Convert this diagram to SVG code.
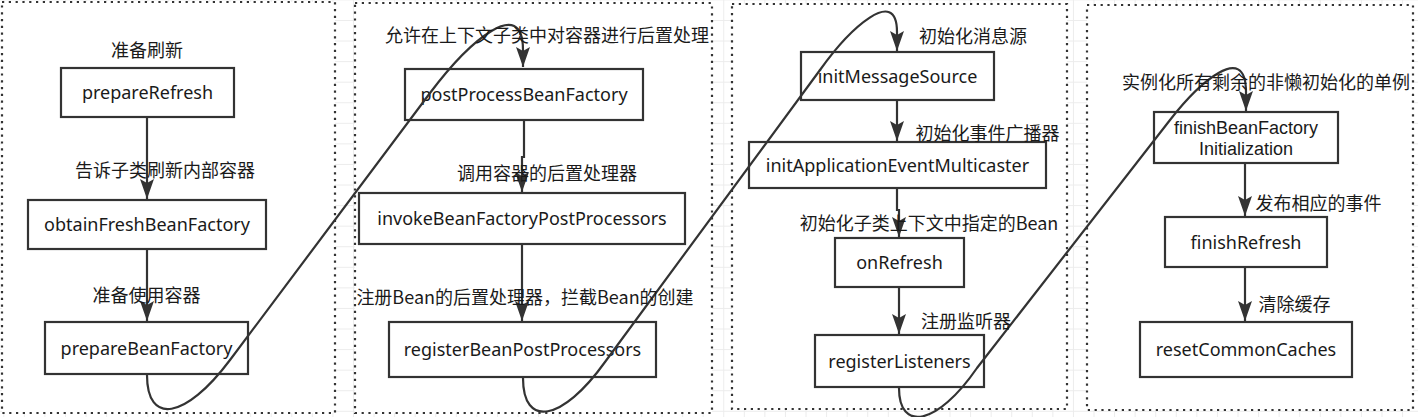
<svg xmlns="http://www.w3.org/2000/svg" width="1418" height="417" viewBox="0 0 1418 417">
<style>
.panel{fill:#fff;stroke:#333;stroke-width:2.2;stroke-dasharray:2.2 4.6}
.box{fill:#fff;stroke:#333;stroke-width:2.2}
.bt{font-family:"Noto Sans","Liberation Sans",Arial,sans-serif;font-size:18px;fill:#1a1a1a;text-anchor:middle}
.bt2{font-family:"Liberation Sans",Arial,sans-serif;font-size:18px;fill:#1a1a1a;text-anchor:middle}
.lb{font-family:"Noto Sans CJK SC","Noto Sans",sans-serif;font-size:18px;fill:#1a1a1a;text-anchor:middle}
.edge{fill:none;stroke:#333;stroke-width:2.2}
</style>
<defs>
<pattern id="grid" patternUnits="userSpaceOnUse" x="3.3" y="-0.6" width="20.57" height="20.57">
<path d="M0,0.5 H20.57 M0.5,0 V20.57" fill="none" stroke="#ececec" stroke-width="1"/>
</pattern>
<marker id="arr" markerUnits="userSpaceOnUse" markerWidth="22" markerHeight="16" refX="20" refY="7" orient="auto">
<path d="M0,0 L20,7 L0,14 L4,7 z" fill="#333"/>
</marker>
</defs>
<rect width="1418" height="417" fill="#fff"/>
<rect width="1418" height="417" fill="url(#grid)"/>
<g id="panels">
<rect class="panel" x="2" y="2" width="333" height="411"/>
<rect class="panel" x="355" y="3" width="357" height="410"/>
<rect class="panel" x="732" y="4" width="335" height="405"/>
<rect class="panel" x="1087" y="5" width="326" height="405"/>
</g>
<g id="n-prepareRefresh"><rect class="box" x="61" y="68" width="173" height="49"/><text class="bt" x="147.5" y="99">prepareRefresh</text></g>
<g id="n-obtainFreshBeanFactory"><rect class="box" x="28" y="200" width="238" height="49"/><text class="bt" x="147" y="231">obtainFreshBeanFactory</text></g>
<g id="n-prepareBeanFactory"><rect class="box" x="45" y="322" width="203" height="52"/><text class="bt" x="146.5" y="354.5">prepareBeanFactory</text></g>
<g id="n-postProcessBeanFactory"><rect class="box" x="405" y="69" width="238" height="51"/><text class="bt" x="524" y="101">postProcessBeanFactory</text></g>
<g id="n-invokeBeanFactoryPostProcessors"><rect class="box" x="359" y="193" width="326" height="51"/><text class="bt" x="522" y="225">invokeBeanFactoryPostProcessors</text></g>
<g id="n-registerBeanPostProcessors"><rect class="box" x="389" y="322" width="267" height="55"/><text class="bt" x="522.5" y="356">registerBeanPostProcessors</text></g>
<g id="n-initMessageSource"><rect class="box" x="801" y="52" width="193" height="48"/><text class="bt" x="897.5" y="82.5">initMessageSource</text></g>
<g id="n-initApplicationEventMulticaster"><rect class="box" x="749" y="142" width="297" height="46"/><text class="bt" x="897.5" y="171.5">initApplicationEventMulticaster</text></g>
<g id="n-onRefresh"><rect class="box" x="835" y="238" width="129" height="49"/><text class="bt" x="899.5" y="269">onRefresh</text></g>
<g id="n-registerListeners"><rect class="box" x="815" y="335" width="169" height="52"/><text class="bt" x="899.5" y="367.5">registerListeners</text></g>
<g id="n-finishBeanFactoryInitialization"><rect class="box" x="1154" y="112" width="184" height="51"/><text class="bt2" x="1246" y="133.5">finishBeanFactory</text><text class="bt2" x="1246" y="154.5">Initialization</text></g>
<g id="n-finishRefresh"><rect class="box" x="1165" y="217" width="162" height="50"/><text class="bt" x="1246" y="248.5">finishRefresh</text></g>
<g id="n-resetCommonCaches"><rect class="box" x="1140" y="322" width="212" height="55"/><text class="bt" x="1246" y="356">resetCommonCaches</text></g>
<g id="connectors">
<path class="edge" marker-end="url(#arr)" d="M147,117 V199"/>
<path class="edge" marker-end="url(#arr)" d="M147,249 V321"/>
<path class="edge" marker-end="url(#arr)" d="M524,120 V157 H522 V192"/>
<path class="edge" marker-end="url(#arr)" d="M522,244 V321"/>
<path class="edge" marker-end="url(#arr)" d="M897,100 V141"/>
<path class="edge" marker-end="url(#arr)" d="M897,188 V210 H899 V237"/>
<path class="edge" marker-end="url(#arr)" d="M899,287 V334"/>
<path class="edge" marker-end="url(#arr)" d="M1245,163 V216"/>
<path class="edge" marker-end="url(#arr)" d="M1245,267 V321"/>
<path class="edge" marker-end="url(#arr)" d="M147,375 C147,425 185,420 230,360 L430,93 C470,40 523,-5 523,50 L523,67"/>
<path class="edge" marker-end="url(#arr)" d="M523,378 C523,428 562,422 605,362 L820,70 C850,28 897,-15 897,32 L897,51"/>
<path class="edge" marker-end="url(#arr)" d="M899,388 C899,432 937,426 977,368 L1170,120 C1198,84 1246,40 1246,92 L1246,111"/>
</g>
<g id="labels">
<text class="lb" x="147" y="56.5">准备刷新</text>
<text class="lb" x="165" y="176.5">告诉子类刷新内部容器</text>
<text class="lb" x="146.5" y="301.5">准备使用容器</text>
<text class="lb" x="547" y="41.5">允许在上下文子类中对容器进行后置处理</text>
<text class="lb" x="547" y="179.5">调用容器的后置处理器</text>
<text class="lb" x="525" y="303.5">注册Bean的后置处理器，拦截Bean的创建</text>
<text class="lb" x="973" y="42.5">初始化消息源</text>
<text class="lb" x="987.5" y="139.5">初始化事件广播器</text>
<text class="lb" x="929" y="229.5">初始化子类上下文中指定的Bean</text>
<text class="lb" x="966" y="327.5">注册监听器</text>
<text class="lb" x="1266" y="88.5">实例化所有剩余的非懒初始化的单例</text>
<text class="lb" x="1318.5" y="209.5">发布相应的事件</text>
<text class="lb" x="1294.5" y="310.5">清除缓存</text>
</g>
</svg>
